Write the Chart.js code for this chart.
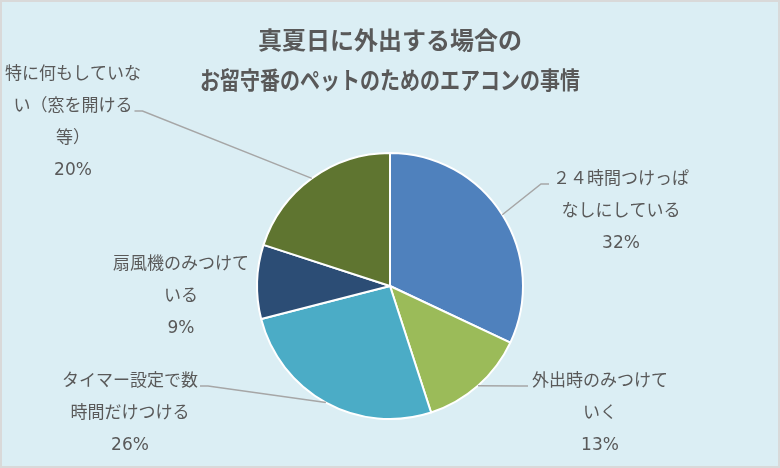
<!DOCTYPE html>
<html>
<head>
<meta charset="utf-8">
<title>真夏日に外出する場合のお留守番のペットのためのエアコンの事情</title>
<script src="https://cdn.jsdelivr.net/npm/chart.js"></script>
<style>
  body { margin: 0; }
  canvas { display: block; }
</style>
</head>
<body>
<canvas id="petChart" width="780" height="468"></canvas>
<script>
const titleLines = ['真夏日に外出する場合の', 'お留守番のペットのためのエアコンの事情'];
const categories = [
    ['２４時間つけっぱ', 'なしにしている'],
    ['外出時のみつけて', 'いく'],
    ['タイマー設定で数', '時間だけつける'],
    ['扇風機のみつけて', 'いる'],
    ['特に何もしていな', 'い（窓を開ける', '等）']
];
const percentages = [32, 13, 26, 9, 20];
const sliceColors = ['#4F81BD', '#9BBB59', '#4BACC6', '#2C4D75', '#5F7530'];

// label block position relative to the pie centre, and where the leader line hooks on
const labelLayout = [
    { dx: 231, dy: -106, leader: 'left', line: 0 },
    { dx: 210, dy: 96, leader: 'left', line: 0 },
    { dx: -260, dy: 96, leader: 'right', line: 0 },
    { dx: -209, dy: -21, leader: null },
    { dx: -317, dy: -211, leader: 'right', line: 1 }
];
const titleFont = '"Noto Sans CJK JP", "Noto Sans", sans-serif';
const labelFont = '"DejaVu Sans", "Noto Sans CJK JP", sans-serif';
const textColor = '#595959';
const lineGap = 32;

const chartBackground = {
    id: 'chartBackground',
    beforeDraw(chart) {
        const ctx = chart.ctx;
        ctx.save();
        ctx.fillStyle = '#DBEEF4';
        ctx.fillRect(0, 0, chart.width, chart.height);
        ctx.strokeStyle = '#D9D9D9';
        ctx.lineWidth = 2;
        ctx.strokeRect(1, 1, chart.width - 2, chart.height - 2);
        ctx.restore();
    }
};

const pieLabels = {
    id: 'pieLabels',
    afterDatasetsDraw(chart) {
        const ctx = chart.ctx;
        const arcs = chart.getDatasetMeta(0).data;
        const values = chart.data.datasets[0].data;
        ctx.save();
        ctx.font = '17px ' + labelFont;
        ctx.textAlign = 'center';
        ctx.textBaseline = 'middle';
        arcs.forEach((arc, i) => {
            const lay = labelLayout[i];
            const lines = categories[i].concat(values[i] + '%');
            const cx = arc.x + lay.dx;
            const top = arc.y + lay.dy;
            ctx.fillStyle = textColor;
            lines.forEach((t, j) => ctx.fillText(t, cx, top + j * lineGap));

            if (lay.leader) {
                const mid = (arc.startAngle + arc.endAngle) / 2;
                const sx = arc.x + Math.cos(mid) * arc.outerRadius;
                const sy = arc.y + Math.sin(mid) * arc.outerRadius;
                const w = ctx.measureText(lines[lay.line]).width;
                const ex = lay.leader === 'left' ? cx - w / 2 - 4 : cx + w / 2 + 2;
                const ey = top + lay.line * lineGap + 4;
                const kx = lay.leader === 'left' ? ex - 8 : ex + 8;
                ctx.strokeStyle = '#A6A6A6';
                ctx.lineWidth = 1.5;
                ctx.beginPath();
                ctx.moveTo(sx, sy);
                ctx.lineTo(kx, ey);
                ctx.lineTo(ex, ey);
                ctx.stroke();
            }
        });
        ctx.restore();
    }
};

new Chart(document.getElementById('petChart'), {
    type: 'pie',
    data: {
        labels: categories.map(c => c.join('')),
        datasets: [{
            data: percentages,
            backgroundColor: sliceColors,
            borderColor: '#FFFFFF',
            borderWidth: 2
        }]
    },
    options: {
        responsive: false,
        animation: false,
        layout: {
            padding: { left: 200, right: 200, top: 0, bottom: 48 }
        },
        plugins: {
            legend: { display: false },
            tooltip: { enabled: false },
            title: {
                display: true,
                text: titleLines,
                color: textColor,
                font: { family: titleFont, size: 24, weight: 'bold', lineHeight: 1.667 },
                padding: { top: 20, bottom: 52 }
            }
        }
    },
    plugins: [chartBackground, pieLabels]
});
</script>
</body>
</html>
